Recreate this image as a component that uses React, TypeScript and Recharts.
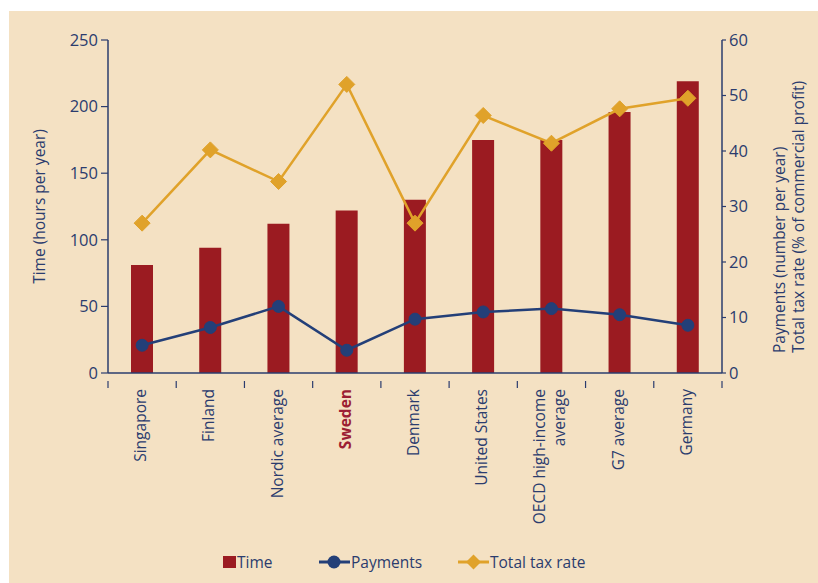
import React from 'react';
import { ComposedChart, Bar, Line, XAxis, YAxis, Legend, Label } from 'recharts';

// ---- data ----
const categories = [
  'Singapore',
  'Finland',
  'Nordic average',
  'Sweden',
  'Denmark',
  'United States',
  'OECD high-income\naverage',
  'G7 average',
  'Germany',
];
const timeHours = [81, 94, 112, 122, 130, 175, 175, 196, 219];
const paymentsPerYear = [5, 8.2, 12, 4.1, 9.7, 11, 11.6, 10.5, 8.6];
const totalTaxRate = [27, 40.2, 34.5, 52, 27, 46.4, 41.4, 47.6, 49.5];
const leftTicks = [0, 50, 100, 150, 200, 250];
const rightTicks = [0, 10, 20, 30, 40, 50, 60];
const highlighted = 'Sweden';

const data = categories.map((c, i) => ({
  name: c,
  time: timeHours[i],
  payments: paymentsPerYear[i],
  tax: totalTaxRate[i],
}));

// ---- styles ----
const FONT = '"Open Sans", "Noto Sans", sans-serif';
const NAVY = '#2B3C6E';
const BAR = '#9B1B21';
const PAY = '#233F78';
const TAX = '#E0A22A';
const RED_LABEL = '#9C1E33';
const BG = '#F4E1C3';

const W = 818;
const H = 583;
const MARGIN = { top: 40, right: 36, bottom: 60, left: 48 };
const YW = 60;
const PLOT_W = W - MARGIN.left - MARGIN.right - 2 * YW;
const BAND = PLOT_W / categories.length;

const CategoryTick = (props: any) => {
  const { x, y, payload, index } = props;
  const lines = String(payload.value).split('\n');
  const isHi = payload.value === highlighted;
  const n = lines.length;
  return (
    <g transform={`translate(${x},${y})`}>
      <line x1={-BAND / 2} y1={0} x2={-BAND / 2} y2={7} stroke={NAVY} strokeWidth={1.2} />
      {index === categories.length - 1 && (
        <line x1={BAND / 2} y1={0} x2={BAND / 2} y2={7} stroke={NAVY} strokeWidth={1.2} />
      )}
      {lines.map((ln, i) => (
        <text
          key={i}
          transform="rotate(-90)"
          x={-8}
          y={4 + (i - (n - 1) / 2) * 20}
          textAnchor="end"
          fontFamily={FONT}
          fontSize={15.5}
          fontWeight={isHi ? 700 : 400}
          fill={isHi ? RED_LABEL : NAVY}
        >
          {ln}
        </text>
      ))}
    </g>
  );
};

const Diamond = (props: any) => {
  const { cx, cy } = props;
  if (cx == null || cy == null) return null;
  const r = 8;
  return (
    <polygon
      points={`${cx},${cy - r} ${cx + r},${cy} ${cx},${cy + r} ${cx - r},${cy}`}
      fill={TAX}
      stroke={TAX}
      strokeWidth={1}
    />
  );
};

const LeftLabel = (props: any) => {
  const vb = props.viewBox;
  const cx = vb.x - 3;
  const cy = vb.y + vb.height / 2;
  return (
    <text
      transform={`rotate(-90, ${cx}, ${cy})`}
      x={cx}
      y={cy}
      textAnchor="middle"
      fontFamily={FONT}
      fontSize={15.5}
      fill={NAVY}
    >
      Time (hours per year)
    </text>
  );
};

const RightLabel = (props: any) => {
  const vb = props.viewBox;
  const y0 = vb.y + vb.height - 20;
  const x1 = vb.x + 63;
  const x2 = vb.x + 82;
  return (
    <g>
      <text
        transform={`rotate(-90, ${x1}, ${y0})`}
        x={x1}
        y={y0}
        textAnchor="start"
        fontFamily={FONT}
        fontSize={15.5}
        fill={NAVY}
      >
        Payments (number per year)
      </text>
      <text
        transform={`rotate(-90, ${x2}, ${y0})`}
        x={x2}
        y={y0}
        textAnchor="start"
        fontFamily={FONT}
        fontSize={15.5}
        fill={NAVY}
      >
        Total tax rate (% of commercial profit)
      </text>
    </g>
  );
};

const renderLegend = (props: any) => {
  const payload = props.payload || [];
  const byKey: Record<string, any> = {};
  payload.forEach((p: any) => {
    byKey[p.dataKey] = p;
  });
  const textStyle: React.CSSProperties = {
    fontFamily: FONT,
    fontSize: 15.5,
    color: NAVY,
    lineHeight: '16px',
    whiteSpace: 'nowrap',
  };
  return (
    <div style={{ position: 'relative', width: 380, height: 18 }}>
      <div style={{ position: 'absolute', left: 0, top: 0, display: 'flex', alignItems: 'center' }}>
        <svg width={14} height={18}>
          <rect x={0} y={3} width={13} height={12} fill={BAR} />
        </svg>
        <span style={textStyle}>{byKey.time ? byKey.time.value : 'Time'}</span>
      </div>
      <div style={{ position: 'absolute', left: 96, top: 0, display: 'flex', alignItems: 'center' }}>
        <svg width={32} height={18}>
          <line x1={0} y1={9} x2={31} y2={9} stroke={PAY} strokeWidth={3} />
          <circle cx={15} cy={9} r={6.5} fill={PAY} />
        </svg>
        <span style={textStyle}>{byKey.payments ? byKey.payments.value : 'Payments'}</span>
      </div>
      <div style={{ position: 'absolute', left: 235, top: 0, display: 'flex', alignItems: 'center' }}>
        <svg width={32} height={18}>
          <line x1={0} y1={9} x2={31} y2={9} stroke={TAX} strokeWidth={3} />
          <polygon points="15.5,1.5 23,9 15.5,16.5 8,9" fill={TAX} />
        </svg>
        <span style={textStyle}>{byKey.tax ? byKey.tax.value : 'Total tax rate'}</span>
      </div>
    </div>
  );
};

export default function App() {
  return (
    <div style={{ position: 'absolute', left: 0, top: 0, width: W, height: H, background: '#ffffff', overflow: 'hidden' }}>
      <div style={{ position: 'absolute', left: 9, top: 11, right: 0, bottom: 0, background: BG }} />
      <div style={{ position: 'absolute', left: 0, top: 0 }}>
        <ComposedChart width={W} height={H} data={data} margin={MARGIN} barCategoryGap="33%">
          <XAxis
            dataKey="name"
            xAxisId={0}
            height={150}
            interval={0}
            tickLine={false}
            axisLine={{ stroke: NAVY, strokeWidth: 1.5 }}
            tick={<CategoryTick />}
          />
          <YAxis
            yAxisId="left"
            orientation="left"
            width={YW}
            domain={[0, 250]}
            ticks={leftTicks}
            interval={0}
            tickSize={7}
            tickMargin={3}
            axisLine={{ stroke: NAVY, strokeWidth: 1.5 }}
            tickLine={{ stroke: NAVY, strokeWidth: 1.2 }}
            tick={{ fill: NAVY, fontFamily: FONT, fontSize: 16.5 }}
          >
            <Label content={<LeftLabel />} />
          </YAxis>
          <YAxis
            yAxisId="right"
            orientation="right"
            width={YW}
            domain={[0, 60]}
            ticks={rightTicks}
            interval={0}
            tickSize={4}
            tickMargin={3}
            axisLine={{ stroke: NAVY, strokeWidth: 1.5 }}
            tickLine={{ stroke: NAVY, strokeWidth: 1.2 }}
            tick={{ fill: NAVY, fontFamily: FONT, fontSize: 16.5 }}
          >
            <Label content={<RightLabel />} />
          </YAxis>
          <Bar
            yAxisId="left"
            dataKey="time"
            name="Time"
            fill={BAR}
            barSize={22}
            isAnimationActive={false}
          />
          <Line
            yAxisId="right"
            dataKey="tax"
            name="Total tax rate"
            stroke={TAX}
            strokeWidth={2.5}
            dot={<Diamond />}
            activeDot={false}
            isAnimationActive={false}
          />
          <Line
            yAxisId="right"
            dataKey="payments"
            name="Payments"
            stroke={PAY}
            strokeWidth={2.5}
            dot={{ r: 6, fill: PAY, stroke: PAY, strokeWidth: 1 }}
            activeDot={false}
            isAnimationActive={false}
          />
          <Legend
            layout="horizontal"
            verticalAlign="middle"
            align="center"
            content={renderLegend}
            wrapperStyle={{ left: 223, top: 553, width: 380, height: 18 }}
          />
        </ComposedChart>
      </div>
    </div>
  );
}
